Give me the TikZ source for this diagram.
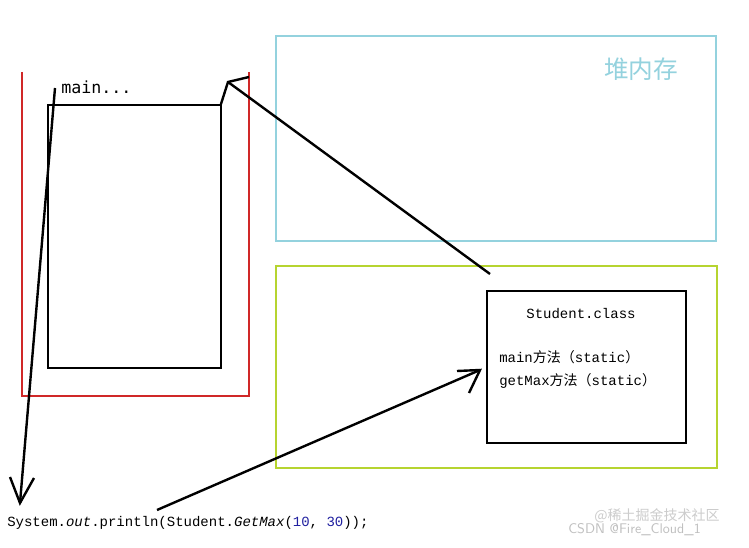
\documentclass[tikz,border=0pt]{standalone}
\usepackage{fontspec}
\setmainfont{Liberation Mono}
\setmonofont{DejaVu Sans Mono}
\newfontfamily\cjk{Noto Sans CJK SC}
\definecolor{redc}{HTML}{D02828}
\definecolor{cyanc}{HTML}{94D2DE}
\definecolor{greenc}{HTML}{B6D430}
\definecolor{numc}{HTML}{2020A0}
\begin{document}
\begin{tikzpicture}[x=0.75pt,y=-0.75pt,
  ln/.style={black,line width=1.8pt},
  txt/.style={inner sep=0pt,anchor=west,font=\fontsize{10.5}{13}\selectfont}]
\useasboundingbox (0,0) rectangle (749,548);
\fill[white] (0,0) rectangle (749,548);
% frames
\draw[redc,line width=1.5pt] (22,72) -- (22,396) -- (249,396) -- (249,72);
\draw[ln,line width=1.6pt] (48,105) rectangle (221,368);
\draw[cyanc,line width=1.7pt] (276,36) rectangle (716,241);
\draw[greenc,line width=1.7pt] (276,266) rectangle (717,468);
\node[draw,ln,line width=1.6pt,minimum width=149.25pt,minimum height=114pt,anchor=north west,inner sep=0pt] (cls) at (486,290) {};
% texts
\node[txt,text=cyanc,font=\cjk\fontsize{18.5}{20}\selectfont] (heap) at (604,69) {堆内存};
\node[txt,font=\ttfamily\fontsize{12.5}{14}\selectfont] (mainlbl) at (61,87) {main...};
\node[txt,anchor=center] (scls) at (581,314) {Student.class};
\node[txt] (m1) at (499,357) {main{\cjk 方法（}static{\cjk ）}};
\node[txt] (m2) at (499,381) {getMax{\cjk 方法（}static{\cjk ）}};
\node[txt] (code) at (7,523) {System.\textit{out}.println(Student.\textit{GetMax}(\textcolor{numc}{10}, \textcolor{numc}{30}));};
\node[txt,text=black!25,font=\sffamily\fontsize{10.5}{12}\selectfont] (wm) at (568,530) {CSDN @Fire\_Cloud\_1};
\node[txt,text=black!20,font=\cjk\fontsize{10.5}{12}\selectfont] (wm2) at (594,516) {@稀土掘金技术社区};
% arrows (hand drawn)
\coordinate (a1s) at (490,274); \coordinate (a1t) at (228,82);
\draw[ln] (a1s) -- (a1t);
\draw[ln] (221,104) -- (a1t) -- (249,77);
\coordinate (a2s) at (55,88); \coordinate (a2t) at (20,503);
\draw[ln] (a2s) -- (a2t);
\draw[ln] (10,477) -- (a2t) -- (34,478);
\coordinate (a3s) at (157,510); \coordinate (a3t) at (480,370);
\draw[ln] (a3s) -- (a3t);
\draw[ln] (457,371) -- (a3t) -- (469,393);
\end{tikzpicture}
\end{document}
